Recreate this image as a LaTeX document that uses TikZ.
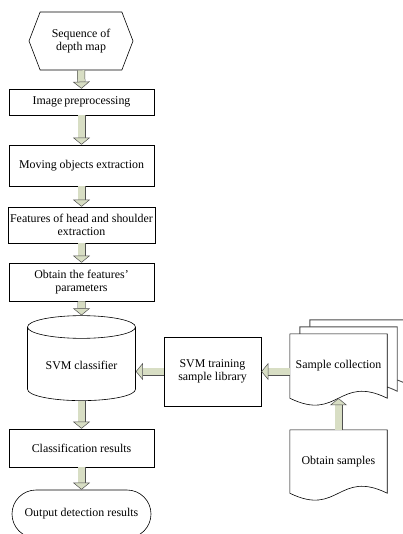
\documentclass[tikz,border=0pt]{standalone}
\usepackage{fontspec}
\setmainfont{Liberation Serif}
\usetikzlibrary{shapes.geometric,shapes.symbols,shapes.misc,arrows.meta,calc,backgrounds}
\definecolor{arrowfill}{RGB}{216,222,196}
\definecolor{arrowline}{RGB}{80,80,80}

% outline of a page with a wavy lower edge
\newcommand{\docoutline}[1]{(#1.south west) -- (#1.north west) -- (#1.north east) -- (#1.south east)
  .. controls ($(#1.south)+(0,-24)$) and ($(#1.south)+(0,24)$) .. (#1.south west) -- cycle}

\begin{document}
\begin{tikzpicture}[x=1pt,y=-1pt,
  every node/.style={font=\fontsize{11.9}{13.6}\selectfont, align=center, inner sep=2pt},
  stepbox/.style={draw, rectangle, minimum width=145pt, line width=0.6pt},
  startnode/.style={draw, signal, signal to=west and east, signal pointer angle=138,
    minimum width=104pt, minimum height=58pt, line width=0.6pt},
  storenode/.style={draw, cylinder, shape border rotate=90, aspect=0.3,
    minimum width=108pt, minimum height=85pt, line width=0.6pt},
  endnode/.style={draw, rounded rectangle, minimum width=143pt, minimum height=48pt, line width=0.6pt},
  docbox/.style={rectangle, minimum width=97pt, inner sep=0pt},
  blockarrow/.style={draw=arrowline, line width=0.5pt, double=arrowfill, double distance=7pt,
    -{Triangle[width=17pt,length=7pt,fill=arrowfill,line width=0.5pt]}}
]
\useasboundingbox (0,0) rectangle (402,534);

% main chain
\node[startnode] (seq) at (81,41) {Sequence of\\depth map};
\node[stepbox, minimum height=26pt] (prep) at (81.5,102) {Image\,preprocessing};
\node[stepbox, minimum height=41pt] (moving) at (81.5,165.5) {Moving objects extraction};
\node[stepbox, minimum height=36pt] (feat) at (81.5,225) {Features of head and shoulder\\extraction};
\node[stepbox, minimum height=38pt] (param) at (81.5,282) {Obtain the features’\\parameters};
\node[storenode] (svm) at (81.5,365.5) {SVM classifier};
\node[stepbox, minimum height=38pt] (cls) at (81.5,448) {Classification results};
\node[endnode] (out) at (81.5,514) {Output detection results};

% training side
\node[stepbox, minimum width=97pt, minimum height=69pt] (lib) at (212.5,371.5) {SVM training\\sample library};
\node[docbox, minimum height=64pt] (coll3) at (358.5,352) {};
\node[docbox, minimum height=64pt] (coll2) at (348.5,359) {};
\node[docbox, minimum height=64pt] (coll) at (338.5,366) {Sample collection};
\node[docbox, minimum height=63pt] (obt) at (338.5,461.5) {Obtain samples};

\begin{pgfonlayer}{background}
  \draw[line width=0.9pt, draw=black!70, fill=white] \docoutline{coll3};
  \draw[line width=0.9pt, draw=black!70, fill=white] \docoutline{coll2};
  \draw[line width=0.6pt, fill=white] \docoutline{coll};
  \draw[line width=0.6pt, fill=white] \docoutline{obt};
\end{pgfonlayer}

% block arrows
\draw[blockarrow] (seq.south) -- (prep.north);
\draw[blockarrow] (prep.south) -- (moving.north);
\draw[blockarrow] (moving.south) -- (feat.north);
\draw[blockarrow] (feat.south) -- (param.north);
\draw[blockarrow] (param.south) -- (svm.north);
\draw[blockarrow] (svm.south) -- (cls.north);
\draw[blockarrow] (cls.south) -- (out.north);
\draw[blockarrow] (lib.west) -- (lib.west -| svm.east);
\draw[blockarrow] (lib.east -| coll.west) -- (lib.east);
\draw[blockarrow] (obt.north) -- (coll.south);
\end{tikzpicture}
\end{document}
